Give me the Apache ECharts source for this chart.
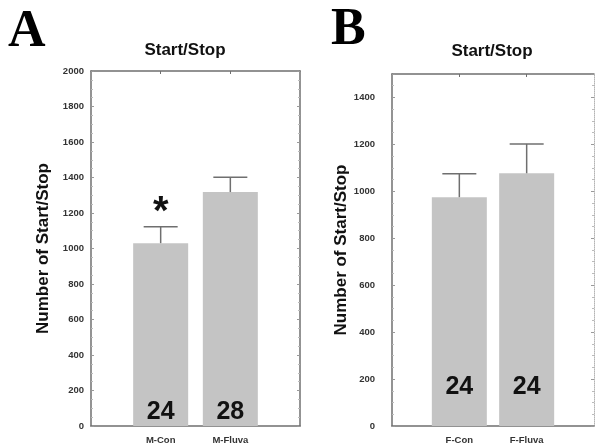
<!DOCTYPE html>
<html>
<head>
<meta charset="utf-8">
<script src="https://cdn.jsdelivr.net/npm/echarts@6/dist/echarts.min.js"></script>
<style>
    html, body { margin: 0; padding: 0; background: #fff; }
    #chart { width: 597px; height: 448px; }
</style>
</head>
<body>
<div id="chart"></div>
<script>
    // panel A - males
    const catsA = ['M-Con', 'M-Fluva'];
    const meanA = [1030, 1318];
    const errA = [92, 83];
    const nA = [24, 28];
    const sigA = ['*', ''];
    // panel B - females
    const catsB = ['F-Con', 'F-Fluva'];
    const meanB = [975, 1077];
    const errB = [100, 125];
    const nB = [24, 24];
    const sigB = ['', ''];
    // y axes
    const yMaxA = 2000;
    const yMaxB = 1500;
    const yStep = 200;

    const FONT = '"Liberation Sans", Arial, sans-serif';
    const AXIS = '#6f6f6f';
    const BAR = '#c4c4c4';

    let chart = echarts.init(document.getElementById('chart'));

    function padCats(cats) {
        return [''].concat(cats, ['']);
    }
    function midTicks(i) {
        return i > 0 && i < 3;
    }

    function errorSeries(xi, yi, means, errs, sig) {
        return {
            type: 'custom',
            xAxisIndex: xi,
            yAxisIndex: yi,
            z: 5,
            data: means.map((v, i) => [i + 1, v, errs[i]]),
            encode: { x: 0, y: [1] },
            renderItem: function (params, api) {
                let x = api.value(0);
                let base = api.coord([x, api.value(1)]);
                let top = api.coord([x, api.value(1) + api.value(2)]);
                let children = [
                    { type: 'line', shape: { x1: base[0], y1: base[1], x2: top[0], y2: top[1] },
                      style: { stroke: AXIS, lineWidth: 1.5 } },
                    { type: 'line', shape: { x1: top[0] - 17, y1: top[1], x2: top[0] + 17, y2: top[1] },
                      style: { stroke: AXIS, lineWidth: 1.5 } }
                ];
                let s = sig[params.dataIndex];
                if (s) {
                    children.push({ type: 'text', style: { text: s, x: top[0], y: top[1] - 14,
                        align: 'center', verticalAlign: 'middle', fill: '#111',
                        fontSize: 40, fontWeight: 'bold', fontFamily: FONT } });
                }
                return { type: 'group', children: children };
            }
        };
    }

    function barSeries(xi, yi, means, ns, dist) {
        return {
            type: 'bar',
            xAxisIndex: xi,
            yAxisIndex: yi,
            barWidth: 55,
            itemStyle: { color: BAR },
            data: means.map((v, i) => [i + 1, v]),
            label: {
                show: true,
                position: 'insideBottom',
                distance: dist,
                formatter: p => String(ns[p.dataIndex]),
                fontSize: 25,
                fontWeight: 'bold',
                fontFamily: FONT,
                color: '#111'
            }
        };
    }

    function bottomAxis(grid, cats) {
        return {
            type: 'category', gridIndex: grid, position: 'bottom',
            data: padCats(cats), boundaryGap: false,
            axisLine: { onZero: false, lineStyle: { color: AXIS, width: 1.5 } },
            axisTick: { inside: true, length: 3, interval: midTicks, lineStyle: { color: AXIS } },
            axisLabel: { interval: 0, margin: 9, fontSize: 9.5, fontWeight: 'bold', fontFamily: FONT, color: '#333' },
            splitLine: { show: false }
        };
    }
    function topAxis(grid, cats) {
        return {
            type: 'category', gridIndex: grid, position: 'top',
            data: padCats(cats), boundaryGap: false,
            axisLine: { onZero: false, lineStyle: { color: AXIS, width: 1.5 } },
            axisTick: { inside: true, length: 3, interval: midTicks, lineStyle: { color: AXIS } },
            axisLabel: { show: false },
            splitLine: { show: false }
        };
    }
    function leftAxis(grid, max, margin, gap) {
        return {
            type: 'value', gridIndex: grid, position: 'left',
            min: 0, max: max, interval: yStep,
            name: 'Number of Start/Stop', nameLocation: 'middle', nameRotate: 90, nameGap: gap,
            nameTextStyle: { fontSize: 17, fontWeight: 'bold', fontFamily: FONT, color: '#111' },
            axisLine: { show: true, onZero: false, lineStyle: { color: AXIS, width: 1.5 } },
            axisTick: { show: true, inside: true, length: 3, lineStyle: { color: '#999' } },
            minorTick: { show: true, splitNumber: 4, length: 2, lineStyle: { color: '#bbb' } },
            axisLabel: { margin: margin, fontSize: 9.5, fontWeight: 'bold', fontFamily: FONT, color: '#333',
                         formatter: v => String(v), showMaxLabel: max % yStep === 0 },
            splitLine: { show: false }
        };
    }
    function rightAxis(grid, max, dotted) {
        return {
            type: 'value', gridIndex: grid, position: 'right',
            min: 0, max: max, interval: yStep,
            axisLine: { show: true, onZero: false, lineStyle: { color: dotted ? '#b5b5b5' : AXIS, width: dotted ? 1 : 1.5,
                        type: dotted ? 'dotted' : 'solid' } },
            axisTick: { show: true, inside: true, length: 3, lineStyle: { color: '#999' } },
            minorTick: { show: true, splitNumber: 4, length: 2, lineStyle: { color: '#bbb' } },
            axisLabel: { show: false },
            splitLine: { show: false }
        };
    }

    let option = {
        animation: false,
        grid: [
            { left: 91, top: 71, width: 209, height: 355 },
            { left: 392, top: 74, width: 203, height: 352 }
        ],
        xAxis: [bottomAxis(0, catsA), topAxis(0, catsA), bottomAxis(1, catsB), topAxis(1, catsB)],
        yAxis: [leftAxis(0, yMaxA, 7, 39), rightAxis(0, yMaxA, false), leftAxis(1, yMaxB, 17, 40), rightAxis(1, yMaxB, true)],
        graphic: [
            { type: 'text', left: 8, top: 7, style: { text: 'A', fontSize: 52, fontWeight: 'bold',
              fontFamily: '"Liberation Serif", "Times New Roman", serif', fill: '#000' } },
            { type: 'text', left: 331, top: 5, style: { text: 'B', fontSize: 52, fontWeight: 'bold',
              fontFamily: '"Liberation Serif", "Times New Roman", serif', fill: '#000' } },
            { type: 'text', x: 185, y: 50, style: { text: 'Start/Stop', align: 'center', verticalAlign: 'middle',
              fontSize: 17, fontWeight: 'bold', fontFamily: FONT, fill: '#111' } },
            { type: 'text', x: 492, y: 51, style: { text: 'Start/Stop', align: 'center', verticalAlign: 'middle',
              fontSize: 17, fontWeight: 'bold', fontFamily: FONT, fill: '#111' } }
        ],
        series: [
            barSeries(0, 0, meanA, nA, 1),
            errorSeries(0, 0, meanA, errA, sigA),
            barSeries(2, 2, meanB, nB, 26),
            errorSeries(2, 2, meanB, errB, sigB)
        ]
    };
    chart.setOption(option);
    window.addEventListener('resize', function () {
        chart.resize();
    });
</script>
</body>
</html>
